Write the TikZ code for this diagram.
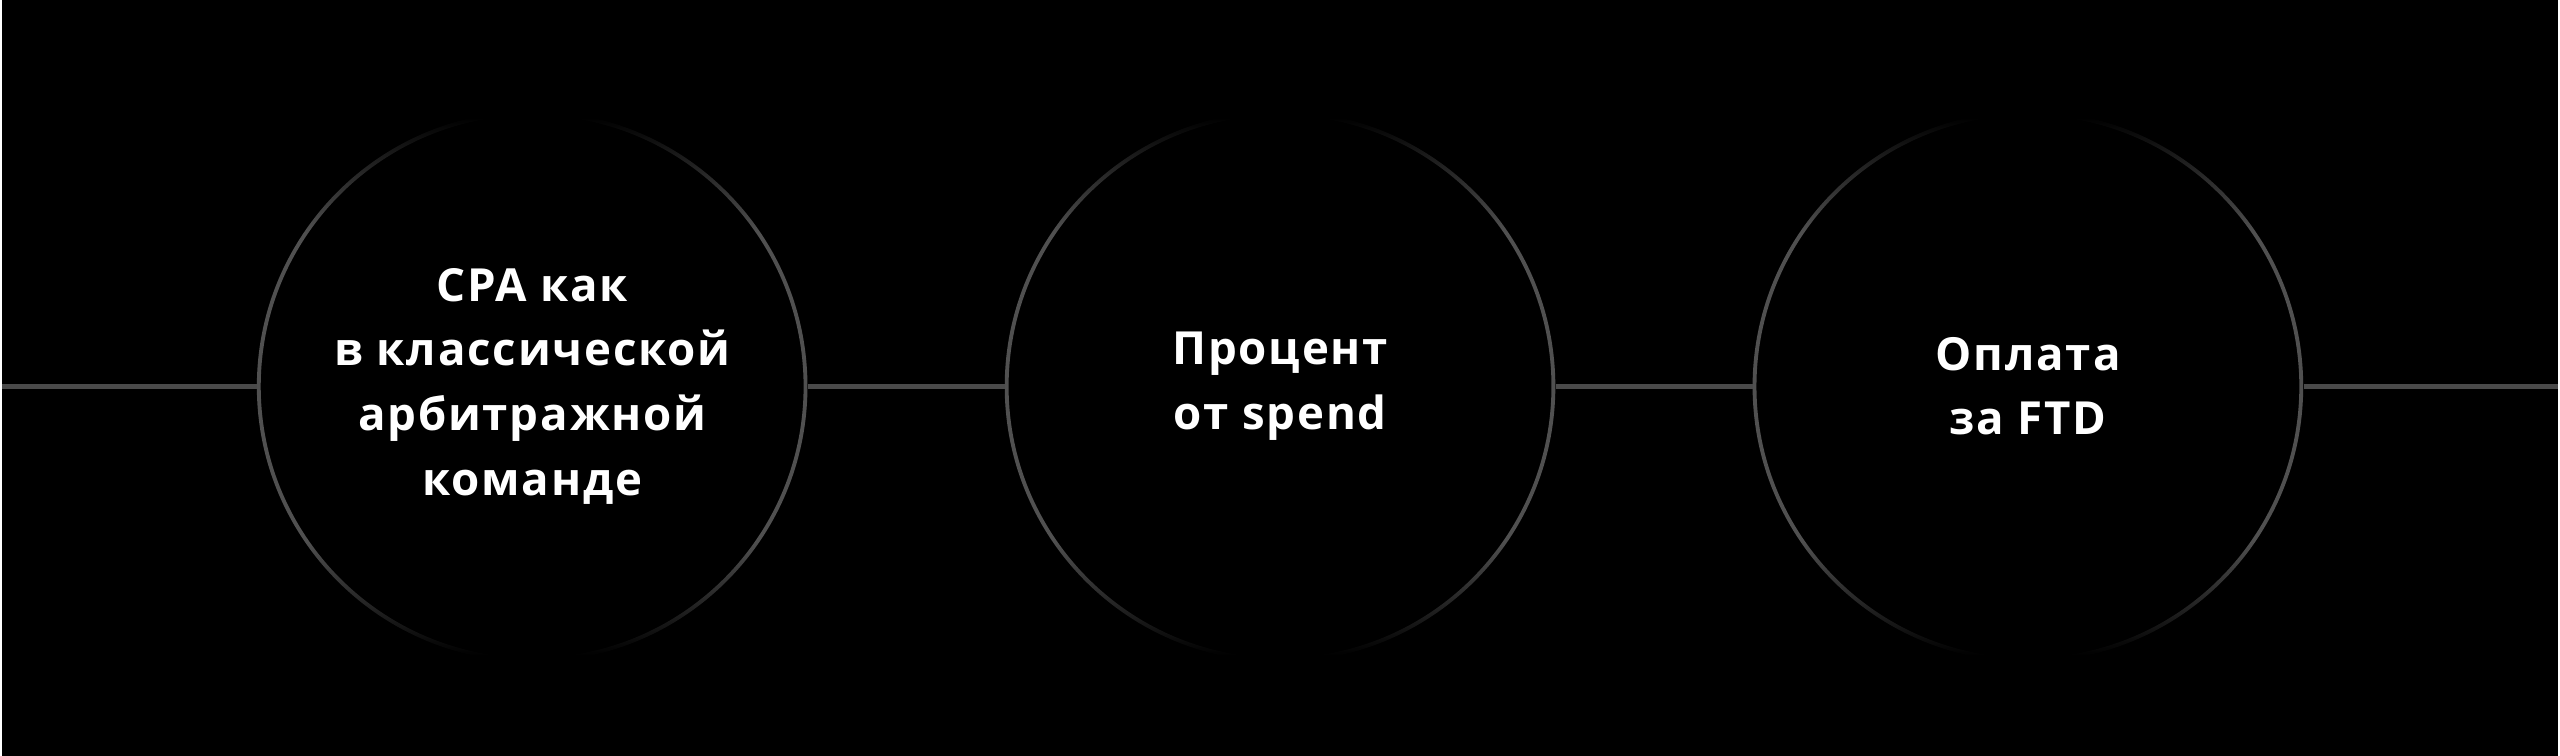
\documentclass[tikz,border=0pt]{standalone}
\usepackage{fontspec}
\setmainfont[LetterSpace=4]{Open Sans}
\usetikzlibrary{positioning,fadings}
\definecolor{ringgray}{HTML}{505050}
\definecolor{linegray}{HTML}{4A4A4A}
\pgfdeclareverticalshading{ringshade}{100bp}{color(0bp)=(black); color(25bp)=(black); color(25.6bp)=(black); color(36bp)=(white); color(64bp)=(white); color(74.4bp)=(black); color(75bp)=(black); color(100bp)=(black)}
\pgfdeclarefading{ringfade}{\pgfuseshading{ringshade}}
\tikzset{main node/.style={circle,draw=ringgray,line width=2.2pt,minimum size=10.96cm,inner sep=0pt,
            text=white,font=\fontsize{26}{36.9}\selectfont\bfseries,align=center,path fading=ringfade},
         link/.style={draw=linegray,line width=2.6pt}
            }

\begin{document}
\begin{tikzpicture}[x=0.02cm,y=0.02cm]
    \fill[black] (0,0) rectangle (2560,757);
    \coordinate (in) at (0,370);
    \coordinate (out) at (2560,370);

    \node[main node] (1) at (531,370) {CPA как\\в классической\\арбитражной\\команде};
    \node[main node] (2) [right = 3.95cm of 1] {Процент\\от spend};
    \node[main node] (3) [right = 3.95cm of 2] {Оплата\\за FTD};

    \path[link]
    (in) edge (1)
    (1) edge (2)
    (2) edge (3)
    (3) edge (out);

\end{tikzpicture}
\end{document}
